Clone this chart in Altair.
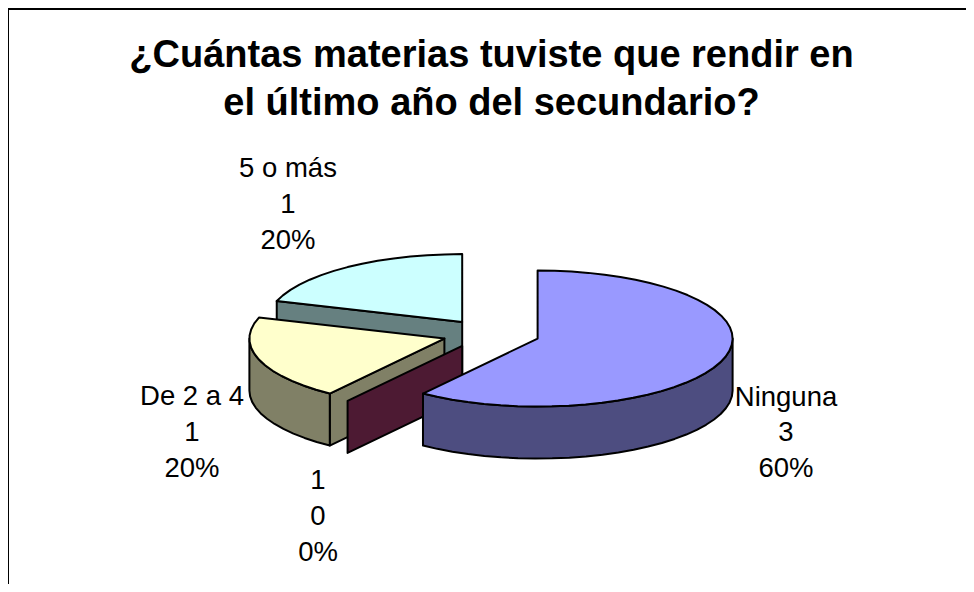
import math
import altair as alt
import pandas as pd

# --- data ---
categories = ["Ninguna", "1", "De 2 a 4", "5 o más"]
counts = [3, 0, 1, 1]
percents = ["60%", "0%", "20%", "20%"]
title_lines = ["¿Cuántas materias tuviste que rendir en", "el último año del secundario?"]
top_colors = ["#9999FF", "#993366", "#FFFFCC", "#CCFFFF"]
side_colors = ["#4D4D80", "#4D1A33", "#808066", "#668080"]

# --- layout (canvas pixels = page pixels - 8) ---
CX, CY = 483.0, 326.0   # pie centre
RX, RY = 195.0, 68.0    # ellipse radii
DEPTH = 52.0
EXPL, EXPL_Y = 49.0, 0.30
STEP = 5.0
label_xy = [(778, [398, 433, 469]), (310, [481, 517, 553]), (184, [397, 433, 469]), (280, [169, 205, 241])]
title_xy = (483.5, [59, 107])


def pt(cx, cy, a, dy=0.0):
    r = math.radians(a)
    return [cx + RX * math.sin(r), cy - RY * math.cos(r) + dy]


def arc(cx, cy, a0, a1, dy=0.0):
    n = max(1, int(round((a1 - a0) / STEP)))
    return [pt(cx, cy, a0 + (a1 - a0) * i / n, dy) for i in range(n + 1)]


def feature(ring, fill):
    return {
        "type": "Feature",
        "properties": {"fill": fill},
        "geometry": {"type": "Polygon", "coordinates": [ring + [ring[0]]]},
    }


total = sum(counts)
angles = []
acc = 0.0
for c in counts:
    angles.append((acc, acc + 360.0 * c / total))
    acc += 360.0 * c / total

features = []
for i in reversed(range(len(counts))):
    a0, a1 = angles[i]
    mid = math.radians((a0 + a1) / 2)
    cx = CX + EXPL * math.sin(mid)
    cy = CY - EXPL * EXPL_Y * math.cos(mid)
    side, top = side_colors[i], top_colors[i]
    # radial walls facing the viewer
    if math.sin(math.radians(a0)) < -1e-9:
        p = pt(cx, cy, a0)
        features.append(feature([[cx, cy], p, [p[0], p[1] + DEPTH], [cx, cy + DEPTH]], side))
    if math.sin(math.radians(a1)) > 1e-9:
        p = pt(cx, cy, a1)
        features.append(feature([[cx, cy], p, [p[0], p[1] + DEPTH], [cx, cy + DEPTH]], side))
    # outer wall: the part of the rim on the front half
    f0, f1 = max(a0, 90.0), min(a1, 270.0)
    if f1 > f0:
        features.append(feature(arc(cx, cy, f0, f1) + arc(cx, cy, f0, f1, DEPTH)[::-1], side))
    # top face
    if a1 > a0:
        features.append(feature([[cx, cy]] + arc(cx, cy, a0, a1), top))

pie = (
    alt.Chart(alt.Data(values=features, format=alt.DataFormat(type="json")))
    .mark_geoshape(stroke="black", strokeWidth=2, strokeJoin="round")
    .encode(fill=alt.Fill("properties.fill:N", scale=None))
    .project(type="identity", scale=1, translate=[0, 0])
)

rows = []
for i, (x, ys) in enumerate(label_xy):
    for txt, y in zip([categories[i], str(counts[i]), percents[i]], ys):
        rows.append({"t": txt, "x": x, "y": y})
labels = (
    alt.Chart(pd.DataFrame(rows))
    .mark_text(font="Liberation Sans", fontSize=27.5, color="black", align="center", baseline="alphabetic")
    .encode(x=alt.X("x:Q", scale=None, axis=None), y=alt.Y("y:Q", scale=None, axis=None), text="t:N")
)

title_df = pd.DataFrame({"t": title_lines, "x": [title_xy[0]] * 2, "y": title_xy[1]})
title = (
    alt.Chart(title_df)
    .mark_text(font="Liberation Sans", fontSize=38, fontWeight="bold", color="black", align="center", baseline="alphabetic")
    .encode(x=alt.X("x:Q", scale=None, axis=None), y=alt.Y("y:Q", scale=None, axis=None), text="t:N")
)

frame_df = pd.DataFrame({"x": [0, 0], "y": [1, 0], "x2": [958, 0], "y2": [1, 576]})
frame = (
    alt.Chart(frame_df)
    .mark_rule(color="black", strokeWidth=2)
    .encode(
        x=alt.X("x:Q", scale=None, axis=None),
        y=alt.Y("y:Q", scale=None, axis=None),
        x2="x2:Q",
        y2="y2:Q",
    )
)

chart = (
    alt.layer(frame, pie, labels, title)
    .properties(width=958, height=576, padding=0, autosize=alt.AutoSizeParams(type="none"))
    .configure_view(stroke=None)
    .configure(background="white")
)
chart.save("out.html", embed_options={"renderer": "svg", "actions": False})
